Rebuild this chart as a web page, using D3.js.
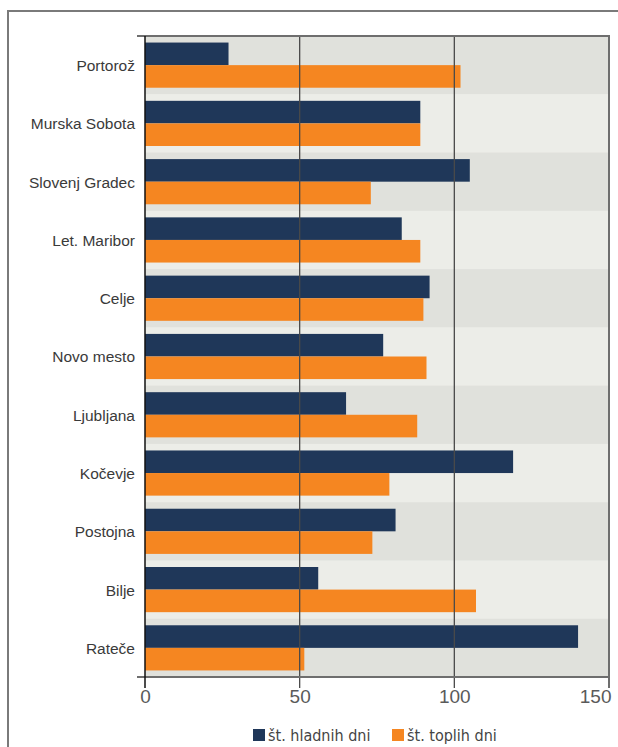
<!DOCTYPE html>
<html>
<head>
<meta charset="utf-8">
<script src="https://cdn.jsdelivr.net/npm/d3@7"></script>
<style>
body { margin: 0; background: #fff; }
svg { display: block; font-family: "DejaVu Sans Condensed", "Liberation Sans", sans-serif; }
</style>
</head>
<body>
<svg width="618" height="747"></svg>
<script>
var stations = ["Portorož", "Murska Sobota", "Slovenj Gradec", "Let. Maribor", "Celje", "Novo mesto",
	"Ljubljana", "Kočevje", "Postojna", "Bilje", "Rateče"];
var coldDays = [27, 89, 105, 83, 92, 77, 65, 119, 81, 56, 140];
var warmDays = [102, 89, 73, 89, 90, 91, 88, 79, 73.5, 107, 51.5];
var seriesNames = ["št. hladnih dni", "št. toplih dni"];
var seriesColors = ["#1f3759", "#f58621"];
var xTicks = [0, 50, 100, 150];

var svg = d3.select("svg"),
	plotLeft = 145, plotRight = 609, plotTop = 36, plotBottom = 677;

// frame around the figure
svg.append("path")
	.attr("d", "M8,760V11H630")
	.attr("fill", "none")
	.attr("stroke", "#7a7a7a")
	.attr("stroke-width", 2);

var x = d3.scaleLinear().domain([0, 150]).range([plotLeft, plotRight]);
var y = d3.scaleBand().domain(stations).range([plotTop, plotBottom]);
var inner = d3.scaleBand().domain([0, 1]).range([0, y.bandwidth()]).paddingOuter(0.29);

svg.selectAll(".band")
	.data(stations)
	.enter().append("rect")
	.attr("class", "band")
	.attr("x", plotLeft)
	.attr("y", function(d) { return y(d); })
	.attr("width", plotRight - plotLeft)
	.attr("height", y.bandwidth() + 0.5)
	.attr("fill", function(d, i) { return i % 2 ? "#ecede8" : "#e0e1dc"; });

var g = svg.selectAll(".station")
	.data(stations)
	.enter().append("g")
	.attr("class", "station")
	.attr("transform", function(d) { return "translate(0," + y(d) + ")"; });

g.selectAll("rect")
	.data(function(d, i) { return [coldDays[i], warmDays[i]]; })
	.enter().append("rect")
	.attr("x", plotLeft)
	.attr("y", function(d, j) { return inner(j); })
	.attr("width", function(d) { return x(d) - plotLeft; })
	.attr("height", inner.bandwidth())
	.attr("fill", function(d, j) { return seriesColors[j]; });

// grid lines
svg.selectAll(".grid")
	.data([50, 100])
	.enter().append("line")
	.attr("x1", function(d) { return x(d); })
	.attr("x2", function(d) { return x(d); })
	.attr("y1", plotTop)
	.attr("y2", plotBottom + 11)
	.attr("stroke", "#4a4a4a")
	.attr("stroke-width", 1.3);

svg.append("line")
	.attr("x1", plotRight).attr("x2", plotRight)
	.attr("y1", plotTop).attr("y2", plotBottom + 11)
	.attr("stroke", "#6e6e6e").attr("stroke-width", 2);

svg.append("line")
	.attr("x1", 137).attr("x2", plotRight + 1)
	.attr("y1", plotTop).attr("y2", plotTop)
	.attr("stroke", "#6e6e6e").attr("stroke-width", 2);

svg.append("line")
	.attr("x1", 137).attr("x2", plotRight + 1)
	.attr("y1", plotBottom).attr("y2", plotBottom)
	.attr("stroke", "#6e6e6e").attr("stroke-width", 2);

svg.append("line")
	.attr("x1", plotLeft).attr("x2", plotLeft)
	.attr("y1", plotTop).attr("y2", plotBottom + 11)
	.attr("stroke", "#111").attr("stroke-width", 1.5);

// axes
var xAxis = svg.append("g")
	.attr("transform", "translate(0," + plotBottom + ")")
	.call(d3.axisBottom(x).tickValues(xTicks).tickSize(0).tickPadding(13));
xAxis.select(".domain").remove();
xAxis.selectAll("text")
	.attr("font-size", 19)
	.attr("font-family", null)
	.attr("fill", "#5a5a5a")
	.attr("text-anchor", function(d) { return d === 150 ? "end" : "middle"; })
	.attr("dx", function(d) { return d === 150 ? 2 : 0; });

var yAxis = svg.append("g")
	.attr("transform", "translate(136,1)")
	.call(d3.axisLeft(y).tickSize(0).tickPadding(1));
yAxis.select(".domain").remove();
yAxis.selectAll("text")
	.attr("font-size", 15.5)
	.attr("font-family", null)
	.attr("fill", "#3a3a3a");

// legend
var legendX = [253, 392];
var legend = svg.selectAll(".legend")
	.data(seriesNames)
	.enter().append("g")
	.attr("class", "legend")
	.attr("transform", function(d, i) { return "translate(" + legendX[i] + ",729)"; });

legend.append("rect")
	.attr("width", 12)
	.attr("height", 12)
	.attr("fill", function(d, i) { return seriesColors[i]; });

legend.append("text")
	.attr("x", 15)
	.attr("y", 12)
	.attr("font-size", 16)
	.attr("fill", "#444")
	.text(function(d) { return d; });
</script>
</body>
</html>
